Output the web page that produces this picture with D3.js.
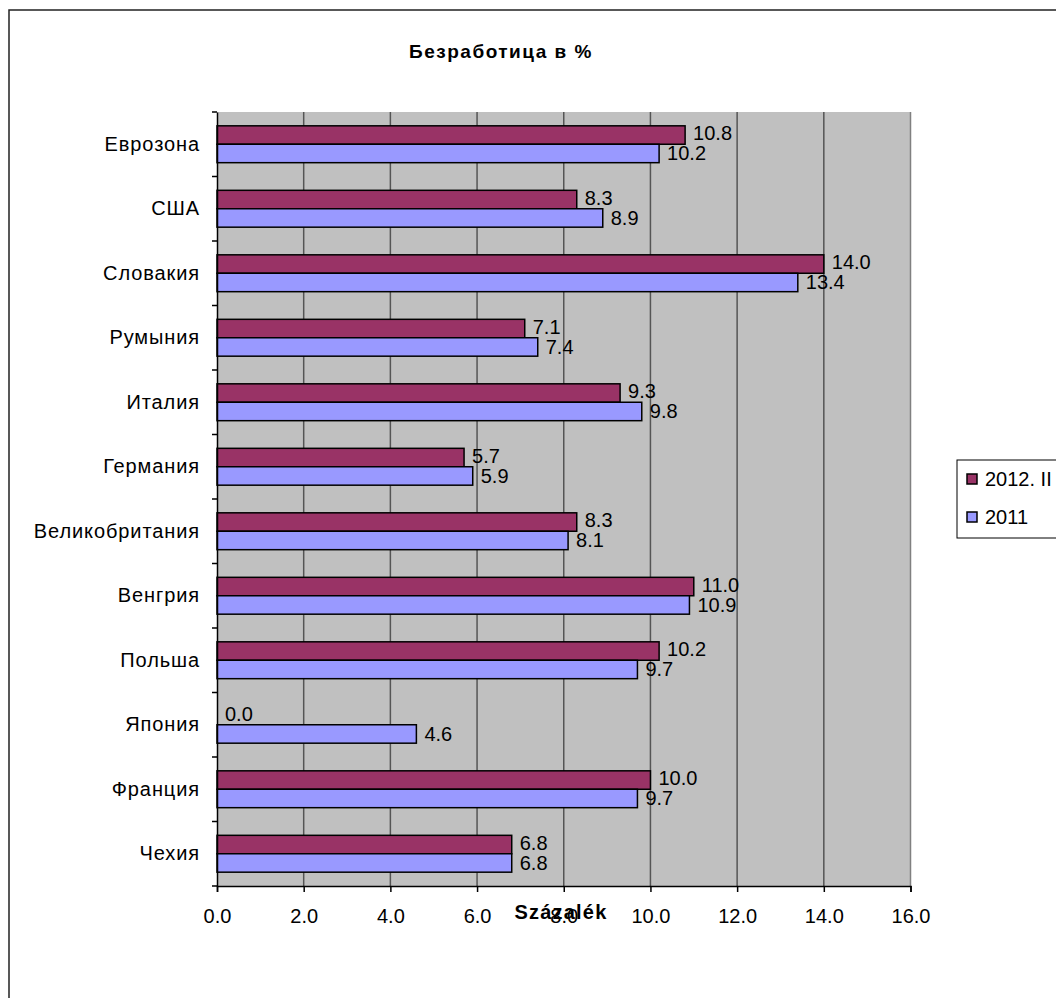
<!DOCTYPE html>
<html><head><meta charset="utf-8">
<script src="https://cdn.jsdelivr.net/npm/d3@7"></script>
<style>body{margin:0;background:#fff}svg{display:block;font-family:"Liberation Sans",Arial,sans-serif}</style>
</head><body>
<script>
const categories = ["Еврозона","США","Словакия","Румыния","Италия","Германия","Великобритания","Венгрия","Польша","Япония","Франция","Чехия"];
const series2012 = [10.8, 8.3, 14.0, 7.1, 9.3, 5.7, 8.3, 11.0, 10.2, 0.0, 10.0, 6.8];
const series2011 = [10.2, 8.9, 13.4, 7.4, 9.8, 5.9, 8.1, 10.9, 9.7, 4.6, 9.7, 6.8];
const seriesNames = ["2012. II", "2011"];
const xTicks = [0,2,4,6,8,10,12,14,16];
const title = "Безработица в %";
const xTitle = "Százalék";

const W = 1056, H = 998;
const svg = d3.select("body").append("svg").attr("width", W).attr("height", H);
svg.append("rect").attr("x",9).attr("y",10).attr("width",W+20).attr("height",H+20)
  .attr("fill","#fff").attr("stroke","#222").attr("stroke-width",1.5);

const L = 217, R = 910.5, T = 112, B = 886;
const x = d3.scaleLinear().domain([0,16]).range([L,R]);
const y = d3.scaleBand().domain(categories).range([T,B]);
const bw = y.bandwidth(), bh = bw/3.5, off = (bw - 2*bh)/2;

svg.append("rect").attr("x",L).attr("y",T).attr("width",R-L).attr("height",B-T).attr("fill","#C0C0C0");
svg.append("g").selectAll("line").data(xTicks.slice(1)).join("line")
  .attr("x1",d=>x(d)).attr("x2",d=>x(d)).attr("y1",T).attr("y2",B)
  .attr("stroke",(d,i)=> d===16 ? "#808080" : "#555").attr("stroke-width",1.5);

const colors = ["#993366","#9999FF"];
const data = [series2012, series2011];
data.forEach((vals,si)=>{
  const g = svg.append("g");
  g.selectAll("rect").data(categories).join("rect")
    .attr("x",x(0)).attr("y",(c)=>y(c)+off+si*bh)
    .attr("width",(c,i)=>x(vals[i])-x(0)).attr("height",bh)
    .attr("fill",colors[si]).attr("stroke","#000").attr("stroke-width",1.5)
    .attr("display",(c,i)=>vals[i]===0?"none":null);
  g.selectAll("text").data(categories).join("text")
    .attr("x",(c,i)=>x(vals[i])+8).attr("y",(c)=>y(c)+off+si*bh+bh/2 + (si===0?-2:0))
    .attr("dy","0.35em").attr("font-size",20).attr("fill","#000")
    .text((c,i)=>vals[i].toFixed(1));
});

// axes
const ya = svg.append("g").attr("transform",`translate(${L},0)`)
  .call(d3.axisLeft(y).tickSize(0).tickPadding(17));
ya.select(".domain").attr("stroke","#000").attr("stroke-width",1.5);
ya.selectAll("text").attr("font-size",20).attr("letter-spacing","0.9px").attr("fill","#000").attr("font-family","Liberation Sans, Arial");
svg.append("g").selectAll("line").data(categories.concat(["__end"])).join("line")
  .attr("x1",L-5).attr("x2",L).attr("y1",(c,i)=>T+i*bw).attr("y2",(c,i)=>T+i*bw)
  .attr("stroke","#000").attr("stroke-width",1.5);

const xa = svg.append("g").attr("transform",`translate(0,${B})`)
  .call(d3.axisBottom(x).tickValues(xTicks).tickFormat(d3.format(".1f")).tickSize(6).tickPadding(17));
xa.select(".domain").attr("stroke","#000").attr("stroke-width",1.5);
xa.selectAll("line").attr("stroke","#000").attr("stroke-width",1.5);
xa.selectAll("text").attr("font-size",20).attr("fill","#000").attr("font-family","Liberation Sans, Arial");

svg.append("text").attr("x",501).attr("y",58).attr("text-anchor","middle")
  .attr("font-size",19).attr("letter-spacing","1.5px").attr("font-weight","bold").text(title);
svg.append("text").attr("x",561).attr("y",919).attr("text-anchor","middle")
  .attr("font-size",20).attr("letter-spacing","1.2px").attr("font-weight","bold").text(xTitle);

// legend
const lg = svg.append("g");
lg.append("rect").attr("x",957).attr("y",460).attr("width",120).attr("height",78)
  .attr("fill","#fff").attr("stroke","#000").attr("stroke-width",1);
seriesNames.forEach((n,i)=>{
  const cy = 479 + i*38;
  lg.append("rect").attr("x",967).attr("y",cy-5).attr("width",10).attr("height",10)
    .attr("fill",colors[i]).attr("stroke","#000").attr("stroke-width",1.5);
  lg.append("text").attr("x",985).attr("y",cy).attr("dy","0.35em").attr("font-size",20).text(n);
});
</script>
</body></html>
